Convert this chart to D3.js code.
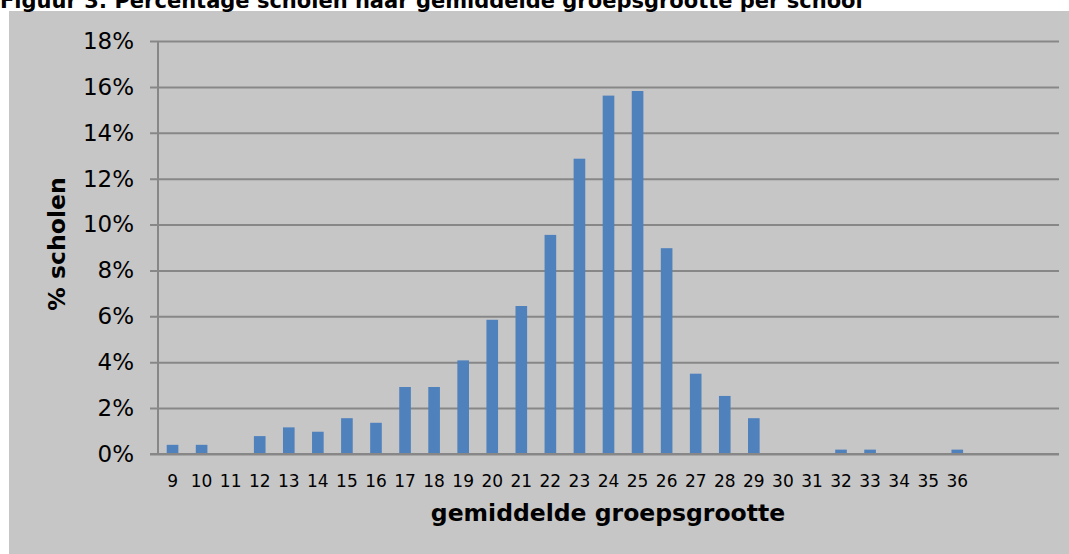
<!DOCTYPE html>
<html><head><meta charset="utf-8">
<script src="https://cdn.jsdelivr.net/npm/d3@7"></script>
<style>html,body{margin:0;padding:0;background:#fff;}svg{display:block;}</style>
</head><body>
<svg id="chart" width="1069" height="554"></svg>
<script>
const title = "Figuur 3: Percentage scholen naar gemiddelde groepsgrootte per school";
const categories = ["9","10","11","12","13","14","15","16","17","18","19","20","21","22","23","24","25","26","27","28","29","30","31","32","33","34","35","36","","",""];
const values = [0.4,0.4,0,0.78,1.16,0.97,1.56,1.36,2.92,2.92,4.08,5.85,6.45,9.55,12.87,15.62,15.82,8.97,3.5,2.53,1.56,0,0,0.19,0.19,0,0,0.19,null,null,null];
const yTicks = [0,2,4,6,8,10,12,14,16,18];
const xTitle = "gemiddelde groepsgrootte";
const yTitle = "% scholen";

(function () {
const svg = d3.select("#chart");
const W = 1069, H = 554;
const mLeft = 158, mRight = 1059, mTop = 41, mBottom = 454;
const font = "DejaVu Sans, Verdana, sans-serif";

svg.append("rect").attr("x", 9).attr("y", 11).attr("width", W - 9).attr("height", H - 11).attr("fill", "#c6c6c6");

svg.append("text").attr("x", 0).attr("y", 8).attr("font-family", font)
  .attr("font-weight", "bold").attr("font-size", 21).attr("fill", "#000").text(title);

const x = d3.scaleBand().domain(d3.range(categories.length)).range([mLeft, mRight]).paddingInner(0.6).paddingOuter(0.3);
const y = d3.scaleLinear().domain([0, 18]).range([mBottom, mTop]);

const yAxis = d3.axisLeft(y).tickValues(yTicks).tickFormat(d => d + "%").tickSize(8).tickPadding(16);
const gy = svg.append("g").attr("transform", `translate(${mLeft},0)`).call(yAxis);
gy.select(".domain").attr("stroke", "#878787").attr("stroke-width", 2).attr("d", `M0,${mTop}V${mBottom}`);
gy.selectAll(".tick line").attr("stroke", "#878787").attr("stroke-width", 2).attr("x1", -8).attr("x2", mRight - mLeft);
gy.selectAll(".tick text").attr("font-family", font).attr("font-size", 23).attr("fill", "#000");

svg.append("g").selectAll("rect").data(values.map((v, i) => ({v, i})).filter(d => d.v != null && d.v > 0))
  .join("rect")
  .attr("x", d => x(d.i)).attr("width", x.bandwidth())
  .attr("y", d => y(d.v)).attr("height", d => y(0) - y(d.v))
  .attr("fill", "#4f81bd");

const xAxis = d3.axisBottom(x).tickFormat(i => categories[i]).tickSize(0).tickPadding(21);
const gx = svg.append("g").attr("transform", `translate(0,${mBottom})`).call(xAxis);
gx.select(".domain").attr("stroke", "#878787").attr("stroke-width", 2).attr("d", `M${mLeft - 8},0H${mRight}`);
gx.selectAll(".tick text").attr("font-family", font).attr("font-size", 17).attr("fill", "#000");

svg.append("text").attr("x", 608).attr("y", 521).attr("text-anchor", "middle")
  .attr("font-family", font).attr("font-weight", "bold").attr("font-size", 23.5).text(xTitle);

svg.append("text").attr("transform", "translate(65,244) rotate(-90)").attr("text-anchor", "middle")
  .attr("font-family", font).attr("font-weight", "bold").attr("font-size", 23.5).text(yTitle);
})();
</script>
</body></html>
